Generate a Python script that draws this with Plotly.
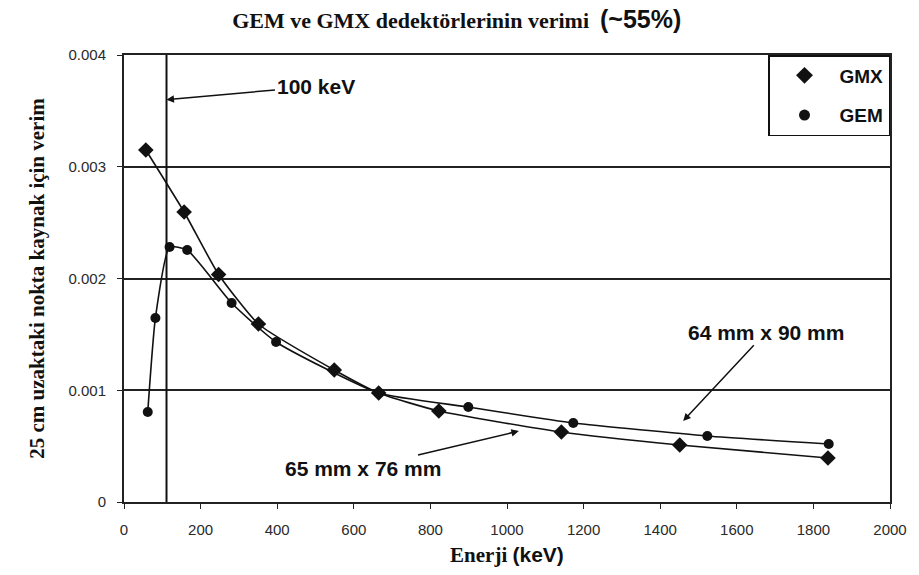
import plotly.graph_objects as go

# ---- data ----
gmx_energy = [57, 157, 247, 351, 549, 665, 822, 1142, 1451, 1838]
gmx_eff = [0.00315, 0.002595, 0.002036, 0.001593, 0.001181, 0.000975,
           0.000814, 0.000626, 0.000510, 0.000394]

gem_energy = [62, 82, 119, 165, 281, 397, 665, 899, 1173, 1523, 1840]
gem_eff = [0.000805, 0.001647, 0.002282, 0.002255, 0.001781, 0.001432,
           0.000975, 0.000850, 0.000707, 0.000591, 0.000519]

marker_line_energy = 111  # the "100 keV" vertical line

x_tick_vals = [0, 200, 400, 600, 800, 1000, 1200, 1400, 1600, 1800, 2000]
x_tick_text = ["0", "200", "400", "600", "800", "1000", "1200", "1400", "1600", "1800", "2000"]
y_tick_vals = [0, 0.001, 0.002, 0.003, 0.004]
y_tick_text = ["0", "0.001", "0.002", "0.003", "0.004"]

title_serif = "GEM ve GMX dedektörlerinin verimi"
title_sans = "(~55%)"
y_title = "25 cm uzaktaki nokta kaynak için verim"
x_title_serif = "Enerji"
x_title_sans = "(keV)"

SERIF = "Liberation Serif"
SANS = "Liberation Sans"
INK = "#111111"

fig = go.Figure()

fig.add_trace(go.Scatter(
    x=gmx_energy, y=gmx_eff, mode="lines+markers", name="GMX", showlegend=False,
    line=dict(color=INK, width=1.6, shape="spline", smoothing=0.5),
    marker=dict(symbol="diamond", size=12, color=INK),
))
fig.add_trace(go.Scatter(
    x=gem_energy, y=gem_eff, mode="lines+markers", name="GEM", showlegend=False,
    line=dict(color=INK, width=1.6, shape="spline", smoothing=0.5),
    marker=dict(symbol="circle", size=10, color=INK),
))
# legend-only entries (markers only, as in the reference)
fig.add_trace(go.Scatter(x=[None], y=[None], mode="markers", name="GMX",
                         legendgroup="a",
                         marker=dict(symbol="diamond", size=13, color=INK)))
fig.add_trace(go.Scatter(x=[None], y=[None], mode="markers", name="GEM",
                         legendgroup="b",
                         marker=dict(symbol="circle", size=11, color=INK)))

# vertical 100 keV line
fig.add_shape(type="line", xref="x", yref="y",
              x0=marker_line_energy, x1=marker_line_energy,
              y0=y_tick_vals[0], y1=y_tick_vals[-1],
              line=dict(color=INK, width=2))

anno_font = dict(family=SANS, size=21, color=INK, weight="bold")
fig.add_annotation(x=marker_line_energy, y=0.0036, xref="x", yref="y",
                   ax=500, ay=0.00372, axref="x", ayref="y",
                   text="100 keV", showarrow=True, arrowhead=2, arrowsize=1,
                   arrowwidth=1.5, arrowcolor=INK, font=anno_font)
fig.add_annotation(x=1460, y=0.000725, xref="x", yref="y",
                   ax=1676, ay=0.00152, axref="x", ayref="y",
                   text="64 mm x 90 mm", showarrow=True, arrowhead=2, arrowsize=1,
                   arrowwidth=1.5, arrowcolor=INK, font=anno_font)
fig.add_annotation(x=1031, y=0.000635, xref="x", yref="y",
                   ax=625, ay=0.000304, axref="x", ayref="y",
                   text="65 mm x 76 mm", showarrow=True, arrowhead=2, arrowsize=1,
                   arrowwidth=1.5, arrowcolor=INK, font=anno_font)

fig.update_layout(
    width=919, height=575,
    margin=dict(l=124, r=17, t=55, b=73),
    paper_bgcolor="white", plot_bgcolor="white",
    title=dict(
        text=(f"<span style='font-family:{SERIF}'><b>{title_serif}</b></span>  "
              f"<span style='font-family:{SANS};font-size:25px'><b>{title_sans}</b></span>"),
        x=0.497, xanchor="center", y=0.965, yanchor="middle",
        font=dict(family=SERIF, size=22, color=INK),
    ),
    showlegend=True,
    legend=dict(
        x=1, xanchor="right", y=1, yanchor="top",
        bgcolor="white", bordercolor=INK, borderwidth=1.5,
        font=dict(family=SANS, size=19, color=INK, weight="bold"),
        tracegroupgap=12, itemwidth=60,
    ),
    xaxis=dict(
        range=[0, 2000], tickvals=x_tick_vals, ticktext=x_tick_text,
        showgrid=False, zeroline=False,
        showline=True, linecolor="#222", linewidth=2, mirror=True,
        ticks="outside", ticklen=5, tickcolor="#222", ticklabelstandoff=8,
        tickfont=dict(family=SANS, size=15, color="#2a2a2a"),
        title=dict(text=(f"<span style='font-family:{SERIF}'><b>{x_title_serif}</b></span> "
                         f"<span style='font-family:{SANS}'><b>{x_title_sans}</b></span>"),
                   font=dict(family=SERIF, size=21, color=INK), standoff=10),
    ),
    yaxis=dict(
        range=[0, 0.004], tickvals=y_tick_vals, ticktext=y_tick_text,
        showgrid=True, gridcolor="#222", gridwidth=2, zeroline=False,
        showline=True, linecolor="#222", linewidth=2, mirror=True,
        ticks="outside", ticklen=5, tickcolor="#222", ticklabelstandoff=8,
        tickfont=dict(family=SANS, size=15, color="#2a2a2a"),
        title=dict(text=f"<b>{y_title}</b>",
                   font=dict(family=SERIF, size=21, color=INK), standoff=18),
    ),
)

fig.write_html("out.html")
